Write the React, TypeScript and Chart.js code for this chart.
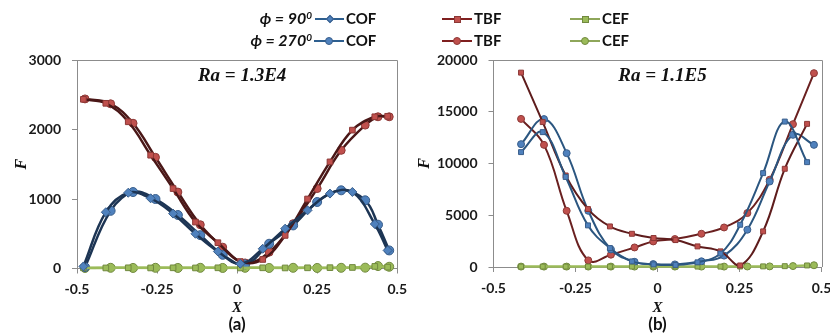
import React, { useEffect, useRef } from 'react';
import { Chart, registerables } from 'chart.js';

Chart.register(...registerables);

// ---------- data: panel (a), Ra = 1.3E4 ----------
const XL90 = [-0.48, -0.41, -0.34, -0.27, -0.2, -0.13, -0.06, 0.01, 0.08, 0.15, 0.22, 0.29, 0.36, 0.43, 0.47];
const XL270 = [-0.475, -0.395, -0.325, -0.255, -0.185, -0.115, -0.045, 0.025, 0.1, 0.175, 0.25, 0.325, 0.4, 0.44, 0.475];
const L_COF90 = [30, 810, 1090, 1010, 790, 500, 245, 68, 284, 573, 837, 1078, 1101, 640, 260];
const L_TBF90 = [2434, 2377, 2111, 1630, 1150, 668, 371, 100, 130, 476, 1000, 1534, 1991, 2183, 2190];
const L_CEF90 = [10, 8, 10, 8, 10, 8, 10, 8, 10, 8, 10, 12, 15, 30, 20];
const L_COF270 = [20, 830, 1100, 1000, 770, 480, 197, 60, 356, 620, 957, 1125, 981, 630, 260];
const L_TBF270 = [2440, 2370, 2090, 1600, 1100, 630, 307, 80, 235, 645, 1150, 1700, 2063, 2183, 2183];
const L_CEF270 = [8, 10, 8, 10, 8, 10, 8, 10, 8, 10, 8, 10, 12, 35, 25];

// ---------- data: panel (b), Ra = 1.1E5 ----------
const XR90 = [-0.416, -0.35, -0.28, -0.212, -0.145, -0.078, -0.012, 0.055, 0.122, 0.192, 0.252, 0.322, 0.388, 0.456];
const XR270 = [-0.416, -0.346, -0.277, -0.211, -0.142, -0.07, -0.013, 0.053, 0.134, 0.203, 0.274, 0.342, 0.413, 0.477];
const R_COF90 = [11100, 13030, 8700, 4020, 1830, 540, 250, 200, 450, 1300, 4080, 9070, 14050, 10130];
const R_TBF90 = [18780, 14000, 8840, 5600, 3920, 3210, 2800, 2600, 1990, 1510, 150, 3440, 9490, 13830];
const R_CEF90 = [40, 40, 40, 40, 40, 40, 40, 40, 40, 40, 50, 60, 80, 150];
const R_COF270 = [11870, 14290, 11000, 5430, 1700, 500, 280, 250, 550, 1100, 3600, 8260, 12770, 11800];
const R_TBF270 = [14310, 11800, 5430, 640, 1190, 1890, 2470, 2700, 3210, 3820, 5210, 8430, 13800, 18730];
const R_CEF270 = [40, 40, 40, 40, 40, 40, 40, 40, 40, 40, 50, 60, 90, 170];

// ---------- axes ----------
const X_MIN = -0.5;
const X_MAX = 0.5;
const X_STEP = 0.25;
const L_Y_MAX = 3000;
const L_Y_STEP = 1000;
const R_Y_MAX = 20000;
const R_Y_STEP = 5000;

const BLUE = '#4f81bd';
const BLUE_EDGE = '#385d8a';
const RED = '#c0504d';
const RED_EDGE = '#8c3836';
const GREEN = '#9bbb59';
const GREEN_EDGE = '#71893f';

const pts = (xs: number[], ys: number[]) => xs.map((x, i) => ({ x, y: ys[i] }));

const TICK_FONT = { family: 'Lato, "Open Sans", sans-serif', size: 14, weight: 'bold' as const };
const SERIF_BI = { family: '"Liberation Serif", "DejaVu Serif", serif', style: 'italic' as const, weight: 'bold' as const };

function extras(note: string, caption: string) {
  return {
    id: 'extras',
    beforeDatasetsDraw(chart: any) {
      const { ctx, chartArea: a } = chart;
      ctx.save();
      ctx.strokeStyle = '#8c8c8c';
      ctx.lineWidth = 1;
      ctx.beginPath();
      ctx.moveTo(a.left, Math.round(a.top) + 0.5);
      ctx.lineTo(Math.round(a.right) + 0.5, Math.round(a.top) + 0.5);
      ctx.lineTo(Math.round(a.right) + 0.5, a.bottom);
      ctx.stroke();
      ctx.fillStyle = '#111';
      ctx.font = 'italic bold 19px "Liberation Serif", "DejaVu Serif", serif';
      ctx.textAlign = 'center';
      ctx.textBaseline = 'middle';
      ctx.fillText(note, (a.left + a.right) / 2 + 5, a.top + 16);
      ctx.font = 'bold 17px Lato, "Open Sans", sans-serif';
      ctx.fillText(caption, (a.left + a.right) / 2, 325);
      ctx.restore();
    },
  };
}

function makeConfig(opts: {
  sets: { xs: number[]; ys: number[]; line: string; fill: string; edge: string; style: string; r: number }[];
  yMax: number;
  yStep: number;
  yWidth: number;
  xHeight: number;
  padRight: number;
  titlePad: number;
  note: string;
  caption: string;
  lineWidth: number;
}) {
  return {
    type: 'line' as const,
    data: {
      datasets: opts.sets.map((s) => ({
        data: pts(s.xs, s.ys),
        borderColor: s.line,
        borderWidth: opts.lineWidth,
        backgroundColor: s.fill,
        pointBackgroundColor: s.fill,
        pointBorderColor: s.edge,
        pointBorderWidth: 1,
        pointStyle: s.style,
        pointRadius: s.r,
        tension: 0.4,
        clip: false as const,
        fill: false,
      })),
    },
    options: {
      responsive: false,
      animation: false as const,
      events: [],
      layout: { padding: { top: 60, right: opts.padRight, bottom: 0, left: 0 } },
      plugins: { legend: { display: false }, tooltip: { enabled: false } },
      scales: {
        x: {
          type: 'linear' as const,
          min: X_MIN,
          max: X_MAX,
          ticks: {
            stepSize: X_STEP,
            color: '#1a1a1a',
            font: TICK_FONT,
            padding: 8,
            maxRotation: 0,
            callback: (v: any) => String(+Number(v).toFixed(2)),
          },
          grid: { drawOnChartArea: false, tickLength: 5, color: '#8c8c8c' },
          border: { color: '#8c8c8c' },
          title: { display: true, text: 'X', color: '#111', font: { ...SERIF_BI, size: 15 }, padding: { top: 0, bottom: 19 } },
          afterFit: (s: any) => { s.height = opts.xHeight; },
        },
        y: {
          type: 'linear' as const,
          min: 0,
          max: opts.yMax,
          ticks: {
            stepSize: opts.yStep,
            color: '#1a1a1a',
            font: TICK_FONT,
            padding: 11,
            callback: (v: any) => String(v),
          },
          grid: { drawOnChartArea: false, tickLength: 5, color: '#8c8c8c' },
          border: { color: '#8c8c8c' },
          title: { display: true, text: 'F', color: '#111', font: { ...SERIF_BI, size: 16 }, padding: { top: opts.titlePad, bottom: 0 } },
          afterFit: (s: any) => { s.width = opts.yWidth; },
        },
      },
    },
    plugins: [extras(opts.note, opts.caption)],
  };
}

function Marker({ shape, color, edge }: { shape: string; color: string; edge: string }) {
  const base: any = { position: 'absolute', background: color, border: `1px solid ${edge}`, boxSizing: 'border-box' };
  if (shape === 'diamond') return <div style={{ ...base, width: 6, height: 6, left: -3, top: -3, transform: 'rotate(45deg)' }} />;
  if (shape === 'circle') return <div style={{ ...base, width: 8, height: 8, left: -4, top: -4, borderRadius: '50%' }} />;
  return <div style={{ ...base, width: 7, height: 7, left: -3.5, top: -3.5 }} />;
}

function LegendItem(p: { x: number; y: number; w: number; line: string; shape: string; color: string; edge: string; label: string }) {
  return (
    <>
      <div style={{ position: 'absolute', left: p.x, top: p.y - 1, width: p.w, height: 2, background: p.line }} />
      <div style={{ position: 'absolute', left: p.x + p.w / 2, top: p.y }}>
        <Marker shape={p.shape} color={p.color} edge={p.edge} />
      </div>
      <div
        style={{
          position: 'absolute',
          left: p.x + p.w + 2,
          top: p.y - 10,
          height: 20,
          lineHeight: '20px',
          font: 'bold 15px Lato, "Open Sans", sans-serif',
          color: '#111',
          whiteSpace: 'nowrap',
        }}
      >
        {p.label}
      </div>
    </>
  );
}

function PhiLabel({ y, deg }: { y: number; deg: string }) {
  return (
    <div
      style={{
        position: 'absolute',
        right: 830 - 312,
        top: y - 11,
        height: 22,
        lineHeight: '22px',
        font: 'italic bold 16px Lato, "DejaVu Sans", sans-serif',
        color: '#111',
        whiteSpace: 'nowrap',
      }}
    >
      ϕ = {deg}
      <sup style={{ fontSize: 10, verticalAlign: 'top', lineHeight: '14px' }}>0</sup>
    </div>
  );
}

export default function App() {
  const leftRef = useRef<HTMLCanvasElement | null>(null);
  const rightRef = useRef<HTMLCanvasElement | null>(null);

  useEffect(() => {
    const leftCfg: any = makeConfig({
      sets: [
        { xs: XL90, ys: L_COF90, line: '#1d3554', fill: BLUE, edge: BLUE_EDGE, style: 'rectRot', r: 4.5 },
        { xs: XL90, ys: L_TBF90, line: '#4a1717', fill: RED, edge: RED_EDGE, style: 'rect', r: 4 },
        { xs: XL90, ys: L_CEF90, line: GREEN, fill: GREEN, edge: GREEN_EDGE, style: 'rect', r: 4 },
        { xs: XL270, ys: L_COF270, line: '#1d3554', fill: BLUE, edge: BLUE_EDGE, style: 'circle', r: 4.5 },
        { xs: XL270, ys: L_TBF270, line: '#4a1717', fill: RED, edge: RED_EDGE, style: 'circle', r: 4 },
        { xs: XL270, ys: L_CEF270, line: GREEN, fill: GREEN, edge: GREEN_EDGE, style: 'circle', r: 4.5 },
      ],
      yMax: L_Y_MAX,
      yStep: L_Y_STEP,
      yWidth: 77,
      xHeight: 67.5,
      padRight: 11,
      titlePad: 12,
      note: 'Ra = 1.3E4',
      caption: '(a)',
      lineWidth: 2.5,
    });
    const rightCfg: any = makeConfig({
      sets: [
        { xs: XR90, ys: R_COF90, line: '#2b5680', fill: BLUE, edge: BLUE_EDGE, style: 'rect', r: 3.5 },
        { xs: XR90, ys: R_TBF90, line: '#5e1c1c', fill: RED, edge: RED_EDGE, style: 'rect', r: 3.5 },
        { xs: XR90, ys: R_CEF90, line: GREEN, fill: GREEN, edge: GREEN_EDGE, style: 'rect', r: 3.5 },
        { xs: XR270, ys: R_COF270, line: '#2b5680', fill: BLUE, edge: BLUE_EDGE, style: 'circle', r: 3.5 },
        { xs: XR270, ys: R_TBF270, line: '#6a2020', fill: RED, edge: RED_EDGE, style: 'circle', r: 3.5 },
        { xs: XR270, ys: R_CEF270, line: GREEN, fill: GREEN, edge: GREEN_EDGE, style: 'circle', r: 3.5 },
      ],
      yMax: R_Y_MAX,
      yStep: R_Y_STEP,
      yWidth: 78.5,
      xHeight: 69,
      padRight: 18.5,
      titlePad: 0,
      note: 'Ra = 1.1E5',
      caption: '(b)',
      lineWidth: 2,
    });
    const c1 = new Chart(leftRef.current as HTMLCanvasElement, leftCfg);
    const c2 = new Chart(rightRef.current as HTMLCanvasElement, rightCfg);
    return () => {
      c1.destroy();
      c2.destroy();
    };
  }, []);

  return (
    <div style={{ position: 'absolute', left: 0, top: 0, width: 830, height: 336, overflow: 'hidden', background: '#fff' }}>
      <canvas ref={leftRef} width={415} height={336} style={{ position: 'absolute', left: 0, top: 0 }} />
      <canvas ref={rightRef} width={425} height={336} style={{ position: 'absolute', left: 415, top: 0 }} />
      <PhiLabel y={19} deg="90" />
      <PhiLabel y={41} deg="270" />
      <LegendItem x={315} y={19} w={29} line="#2e5f8f" shape="diamond" color={BLUE} edge={BLUE_EDGE} label="COF" />
      <LegendItem x={442} y={19} w={30} line="#7f1f1f" shape="square" color={RED} edge={RED_EDGE} label="TBF" />
      <LegendItem x={570} y={19} w={30} line="#8ea65a" shape="square" color={GREEN} edge={GREEN_EDGE} label="CEF" />
      <LegendItem x={314} y={41} w={30} line="#2e5f8f" shape="circle" color={BLUE} edge={BLUE_EDGE} label="COF" />
      <LegendItem x={442} y={41} w={30} line="#7f1f1f" shape="circle" color={RED} edge={RED_EDGE} label="TBF" />
      <LegendItem x={570} y={41} w={30} line="#8ea65a" shape="circle" color={GREEN} edge={GREEN_EDGE} label="CEF" />
    </div>
  );
}
